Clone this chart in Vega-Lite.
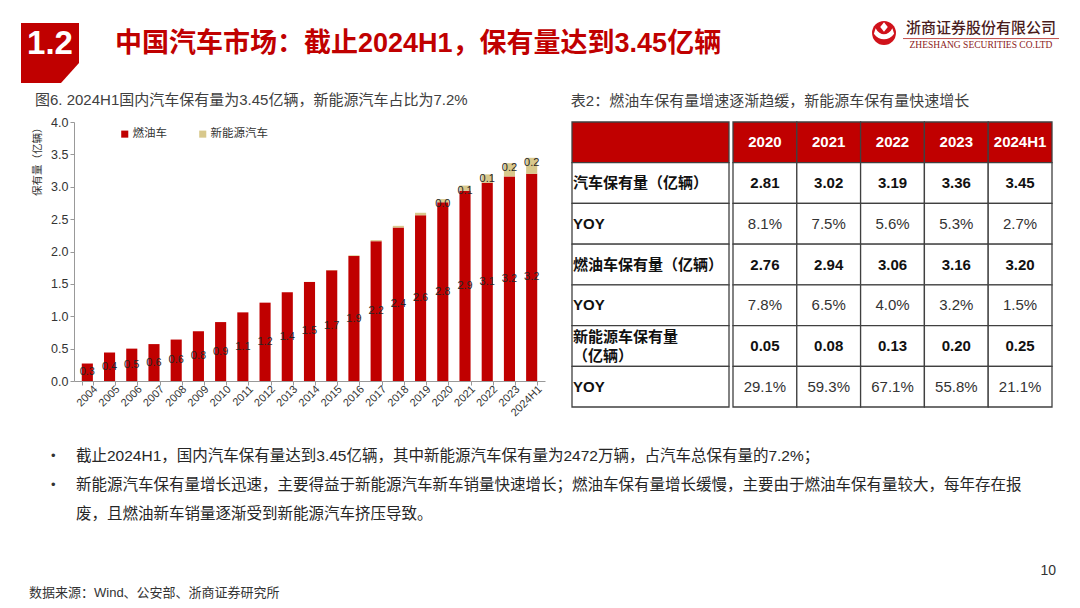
{
  "$schema": "https://vega.github.io/schema/vega-lite/v6.json",
  "background": "white",
  "padding": {"left": 20, "top": 18, "right": 0, "bottom": 0},
  "config": {
    "view": {"stroke": "transparent"},
    "font": "Liberation Sans, Noto Sans CJK SC",
    "text": {"font": "Liberation Sans, Noto Sans CJK SC"},
    "title": {"font": "Liberation Sans, Noto Sans CJK SC"},
    "axis": {"labelFont": "Liberation Sans, Noto Sans CJK SC", "titleFont": "Noto Sans CJK SC"},
    "legend": {"labelFont": "Noto Sans CJK SC"}
  },
  "datasets": {
    "header": [
      {"part": "section", "text": "1.2"},
      {"part": "title", "text": "中国汽车市场：截止2024H1，保有量达到3.45亿辆"}
    ],
    "logo": [
      {"line": "cn", "text": "浙商证券股份有限公司"},
      {"line": "en", "text": "ZHESHANG SECURITIES CO.LTD"}
    ],
    "cars": [
      {"year": "2004", "type": "燃油车", "value": 0.27}, {"year": "2004", "type": "新能源汽车", "value": 0},
      {"year": "2005", "type": "燃油车", "value": 0.44}, {"year": "2005", "type": "新能源汽车", "value": 0},
      {"year": "2006", "type": "燃油车", "value": 0.50}, {"year": "2006", "type": "新能源汽车", "value": 0},
      {"year": "2007", "type": "燃油车", "value": 0.57}, {"year": "2007", "type": "新能源汽车", "value": 0},
      {"year": "2008", "type": "燃油车", "value": 0.64}, {"year": "2008", "type": "新能源汽车", "value": 0},
      {"year": "2009", "type": "燃油车", "value": 0.77}, {"year": "2009", "type": "新能源汽车", "value": 0},
      {"year": "2010", "type": "燃油车", "value": 0.91}, {"year": "2010", "type": "新能源汽车", "value": 0},
      {"year": "2011", "type": "燃油车", "value": 1.06}, {"year": "2011", "type": "新能源汽车", "value": 0},
      {"year": "2012", "type": "燃油车", "value": 1.21}, {"year": "2012", "type": "新能源汽车", "value": 0},
      {"year": "2013", "type": "燃油车", "value": 1.37}, {"year": "2013", "type": "新能源汽车", "value": 0},
      {"year": "2014", "type": "燃油车", "value": 1.53}, {"year": "2014", "type": "新能源汽车", "value": 0.0022},
      {"year": "2015", "type": "燃油车", "value": 1.71}, {"year": "2015", "type": "新能源汽车", "value": 0.0058},
      {"year": "2016", "type": "燃油车", "value": 1.93}, {"year": "2016", "type": "新能源汽车", "value": 0.0109},
      {"year": "2017", "type": "燃油车", "value": 2.16}, {"year": "2017", "type": "新能源汽车", "value": 0.0153},
      {"year": "2018", "type": "燃油车", "value": 2.37}, {"year": "2018", "type": "新能源汽车", "value": 0.0261},
      {"year": "2019", "type": "燃油车", "value": 2.56}, {"year": "2019", "type": "新能源汽车", "value": 0.0381},
      {"year": "2020", "type": "燃油车", "value": 2.76}, {"year": "2020", "type": "新能源汽车", "value": 0.0492},
      {"year": "2021", "type": "燃油车", "value": 2.94}, {"year": "2021", "type": "新能源汽车", "value": 0.0784},
      {"year": "2022", "type": "燃油车", "value": 3.06}, {"year": "2022", "type": "新能源汽车", "value": 0.131},
      {"year": "2023", "type": "燃油车", "value": 3.16}, {"year": "2023", "type": "新能源汽车", "value": 0.2041},
      {"year": "2024H1", "type": "燃油车", "value": 3.20}, {"year": "2024H1", "type": "新能源汽车", "value": 0.2472}
    ],
    "labels": [
      {"row": "年份", "col": "指标", "label": ""},
      {"row": "汽车保有量（亿辆）", "col": "指标", "label": "汽车保有量（亿辆）"},
      {"row": "汽车YOY", "col": "指标", "label": "YOY"},
      {"row": "燃油车保有量（亿辆）", "col": "指标", "label": "燃油车保有量（亿辆）"},
      {"row": "燃油车YOY", "col": "指标", "label": "YOY"},
      {"row": "新能源车保有量（亿辆）", "col": "指标", "label": ["新能源车保有量", "（亿辆）"]},
      {"row": "新能源车YOY", "col": "指标", "label": "YOY"}
    ],
    "table": [
      {"row": "年份", "col": "2020"}, {"row": "年份", "col": "2021"}, {"row": "年份", "col": "2022"}, {"row": "年份", "col": "2023"}, {"row": "年份", "col": "2024H1"},
      {"row": "汽车保有量（亿辆）", "col": "2020", "value": 2.81}, {"row": "汽车保有量（亿辆）", "col": "2021", "value": 3.02}, {"row": "汽车保有量（亿辆）", "col": "2022", "value": 3.19}, {"row": "汽车保有量（亿辆）", "col": "2023", "value": 3.36}, {"row": "汽车保有量（亿辆）", "col": "2024H1", "value": 3.45},
      {"row": "汽车YOY", "col": "2020", "value": 0.081}, {"row": "汽车YOY", "col": "2021", "value": 0.075}, {"row": "汽车YOY", "col": "2022", "value": 0.056}, {"row": "汽车YOY", "col": "2023", "value": 0.053}, {"row": "汽车YOY", "col": "2024H1", "value": 0.027},
      {"row": "燃油车保有量（亿辆）", "col": "2020", "value": 2.76}, {"row": "燃油车保有量（亿辆）", "col": "2021", "value": 2.94}, {"row": "燃油车保有量（亿辆）", "col": "2022", "value": 3.06}, {"row": "燃油车保有量（亿辆）", "col": "2023", "value": 3.16}, {"row": "燃油车保有量（亿辆）", "col": "2024H1", "value": 3.20},
      {"row": "燃油车YOY", "col": "2020", "value": 0.078}, {"row": "燃油车YOY", "col": "2021", "value": 0.065}, {"row": "燃油车YOY", "col": "2022", "value": 0.040}, {"row": "燃油车YOY", "col": "2023", "value": 0.032}, {"row": "燃油车YOY", "col": "2024H1", "value": 0.015},
      {"row": "新能源车保有量（亿辆）", "col": "2020", "value": 0.05}, {"row": "新能源车保有量（亿辆）", "col": "2021", "value": 0.08}, {"row": "新能源车保有量（亿辆）", "col": "2022", "value": 0.13}, {"row": "新能源车保有量（亿辆）", "col": "2023", "value": 0.20}, {"row": "新能源车保有量（亿辆）", "col": "2024H1", "value": 0.25},
      {"row": "新能源车YOY", "col": "2020", "value": 0.291}, {"row": "新能源车YOY", "col": "2021", "value": 0.593}, {"row": "新能源车YOY", "col": "2022", "value": 0.671}, {"row": "新能源车YOY", "col": "2023", "value": 0.558}, {"row": "新能源车YOY", "col": "2024H1", "value": 0.211}
    ],
    "bullets": [
      {"line": 1, "bullet": "•", "text": "截止2024H1，国内汽车保有量达到3.45亿辆，其中新能源汽车保有量为2472万辆，占汽车总保有量的7.2%；"},
      {"line": 2, "bullet": "•", "text": "新能源汽车保有量增长迅速，主要得益于新能源汽车新车销量快速增长；燃油车保有量增长缓慢，主要由于燃油车保有量较大，每年存在报"},
      {"line": 3, "bullet": "", "text": "废，且燃油新车销量逐渐受到新能源汽车挤压导致。"}
    ],
    "footer": [
      {"item": "page", "text": "10"},
      {"item": "source", "text": "数据来源：Wind、公安部、浙商证券研究所"}
    ]
  },
  "spacing": 8,
  "vconcat": [
    {
      "spacing": 33,
      "hconcat": [
        {
          "width": 60, "height": 64,
          "data": {"name": "header"},
          "transform": [{"filter": "datum.part === 'section'"}],
          "layer": [
            {"mark": {"type": "point", "shape": "M-0.9375,-0.875L0.875,-0.875L0.875,0.375L0.3125,1L-0.9375,1Z", "size": 4096, "filled": true, "fill": "#C00000", "opacity": 1, "strokeWidth": 0}, "encoding": {}},
            {"mark": {"type": "text", "color": "white", "fontSize": 33, "fontWeight": "bold", "baseline": "middle", "align": "center", "dy": -7, "dx": -1, "font": "Liberation Sans"}, "encoding": {"text": {"field": "text"}}}
          ]
        },
        {
          "width": 718, "height": 64,
          "data": {"name": "header"},
          "transform": [{"filter": "datum.part === 'title'"}],
          "mark": {"type": "text", "align": "left", "baseline": "middle", "dy": -7, "dx": -3, "fontSize": 27, "fontWeight": "bold", "color": "#C00000"},
          "encoding": {
            "x": {"field": "part", "type": "nominal", "scale": {"type": "point", "padding": 0, "align": 0}, "axis": null},
            "text": {"field": "text"}
          }
        },
        {
          "spacing": 4,
          "hconcat": [
            {
              "width": 28, "height": 28,
              "data": {"name": "logo"},
              "transform": [{"filter": "datum.line === 'cn'"}],
              "layer": [
                {"mark": {"type": "point", "shape": "circle", "size": 572, "filled": true, "fill": "#D0121B", "opacity": 1, "strokeWidth": 0}, "encoding": {}},
                {"mark": {"type": "point", "shape": "M-0.62,-0.35C-0.3,0.25 0.3,0.25 0.62,-0.35L0.75,0.05C0.35,0.6 -0.35,0.6 -0.75,0.05Z", "size": 729, "filled": true, "fill": "white", "opacity": 1, "strokeWidth": 0}, "encoding": {}},
                {"mark": {"type": "point", "shape": "M0,-0.8L0.28,-0.45L0,-0.1L-0.28,-0.45Z", "size": 729, "filled": true, "fill": "white", "opacity": 1, "strokeWidth": 0}, "encoding": {}}
              ]
            },
            {
              "width": 156, "height": 34,
              "data": {"name": "logo"},
              "encoding": {
                "y": {"field": "line", "type": "nominal", "scale": {"domain": ["cn", "en"], "paddingInner": 0, "paddingOuter": 0}, "axis": null}
              },
              "layer": [
                {"transform": [{"filter": "datum.line === 'cn'"}], "mark": {"type": "text", "baseline": "middle", "align": "center", "fontSize": 15, "fontWeight": 500, "color": "#4A1C1C", "font": "Noto Sans CJK SC"}, "encoding": {"text": {"field": "text"}}},
                {"transform": [{"filter": "datum.line === 'en'"}], "mark": {"type": "rule", "color": "#C0504D", "strokeWidth": 1}, "encoding": {"y": {"field": "line", "type": "nominal", "bandPosition": 0.15}}},
                {"transform": [{"filter": "datum.line === 'en'"}], "mark": {"type": "text", "baseline": "middle", "align": "center", "fontSize": 9.5, "color": "#8B1A1A", "font": "Liberation Serif"}, "encoding": {"text": {"field": "text"}}}
              ]
            }
          ]
        }
      ]
    },
    {
      "spacing": 21,
      "vconcat": [
        {
          "spacing": 0,
          "hconcat": [
            {"width": 10, "height": 1, "data": {"values": [{"k": 1}]}, "mark": {"type": "point", "opacity": 0, "size": 1}, "encoding": {}},
            {
              "spacing": 24,
              "hconcat": [
                {
                  "width": 471, "height": 259,
                  "title": {"text": "图6. 2024H1国内汽车保有量为3.45亿辆，新能源汽车占比为7.2%", "anchor": "start", "fontSize": 15, "fontWeight": "normal", "color": "#404040", "offset": 8, "dx": 3},
                  "data": {"name": "cars"},
                  "transform": [{"stack": "value", "groupby": ["year"], "sort": [{"field": "type", "order": "descending"}], "as": ["v0", "v1"]}],
                  "encoding": {
                    "x": {"field": "year", "type": "ordinal", "scale": {"paddingInner": 0.5, "paddingOuter": 0.35},
                      "axis": {"title": null, "labelAngle": -45, "labelFontSize": 11, "labelColor": "#333333", "tickBand": "extent", "tickSize": 4, "tickColor": "#999999", "domainColor": "#999999", "labelPadding": -2, "labelOffset": 4}}
                  },
                  "resolve": {"scale": {"y": "independent"}},
                  "layer": [
                    {
                      "mark": {"type": "bar"},
                      "encoding": {
                        "y": {"field": "v1", "type": "quantitative", "scale": {"domain": [0, 4], "nice": false},
                          "axis": {"title": "保有量（亿辆）", "titleAnchor": "end", "titleFontSize": 10.5, "titleFontWeight": "normal", "titleColor": "#333333", "titlePadding": 6,
                            "values": [0, 0.5, 1, 1.5, 2, 2.5, 3, 3.5, 4], "format": ".1f", "labelFontSize": 12.5, "labelColor": "#333333",
                            "tickSize": 4, "tickColor": "#999999", "domainColor": "#999999", "grid": false, "minExtent": 26, "maxExtent": 26, "labelPadding": 2}},
                        "y2": {"field": "v0"},
                        "color": {"field": "type", "type": "nominal", "scale": {"domain": ["燃油车", "新能源汽车"], "range": ["#C00000", "#D8C88C"]},
                          "legend": {"title": null, "orient": "none", "legendX": 98, "legendY": 109, "direction": "horizontal", "symbolType": "square", "symbolSize": 50, "labelFontSize": 11.5, "labelColor": "#333333", "columnPadding": 30, "labelOffset": 2, "symbolStrokeWidth": 0}}
                      }
                    },
                    {
                      "transform": [{"filter": "datum.type === '燃油车'"}],
                      "mark": {"type": "text", "fontSize": 11, "color": "#262626", "baseline": "middle", "font": "Liberation Sans"},
                      "encoding": {
                        "y": {"field": "value", "type": "quantitative", "scale": {"domain": [0, 8], "nice": false}, "axis": null},
                        "text": {"field": "value", "type": "quantitative", "format": ".1f"}
                      }
                    },
                    {
                      "transform": [{"filter": "datum.type === '新能源汽车' && datum.value > 0.04"}],
                      "mark": {"type": "text", "fontSize": 11, "color": "#262626", "baseline": "middle", "dy": 5, "font": "Liberation Sans"},
                      "encoding": {
                        "y": {"field": "v1", "type": "quantitative", "scale": {"domain": [0, 4], "nice": false}, "axis": null},
                        "text": {"field": "value", "type": "quantitative", "format": ".1f"}
                      }
                    }
                  ]
                },
                {
                  "title": {"text": "表2：燃油车保有量增速逐渐趋缓，新能源车保有量快速增长", "anchor": "start", "fontSize": 15, "fontWeight": "normal", "color": "#404040", "offset": 12},
                  "spacing": 0,
                  "hconcat": [
                    {
                      "width": 157, "height": 285,
                      "data": {"name": "labels"},
                      "encoding": {
                        "y": {"field": "row", "type": "nominal", "scale": {"domain": ["年份", "汽车保有量（亿辆）", "汽车YOY", "燃油车保有量（亿辆）", "燃油车YOY", "新能源车保有量（亿辆）", "新能源车YOY"], "paddingInner": 0, "paddingOuter": 0}, "axis": null},
                        "x": {"field": "col", "type": "nominal", "scale": {"paddingInner": 0, "paddingOuter": 0}, "axis": null}
                      },
                      "layer": [
                        {"mark": {"type": "rect", "stroke": "#404040", "strokeWidth": 1.3},
                         "encoding": {"fill": {"condition": {"test": "datum.row === '年份'", "value": "#C00000"}, "value": "#FFFFFF"}}},
                        {"transform": [{"filter": "datum.row !== '新能源车保有量（亿辆）'"}],
                         "mark": {"type": "text", "align": "left", "baseline": "middle", "dx": 1, "fontSize": 15, "fontWeight": "bold", "color": "#111111"},
                         "encoding": {"x": {"field": "col", "type": "nominal", "bandPosition": 0}, "text": {"field": "label"}}},
                        {"transform": [{"filter": "datum.row === '新能源车保有量（亿辆）'"}],
                         "mark": {"type": "text", "align": "left", "baseline": "middle", "dx": 1, "dy": -9, "fontSize": 15, "fontWeight": "bold", "color": "#111111", "lineHeight": 19},
                         "encoding": {"x": {"field": "col", "type": "nominal", "bandPosition": 0}, "text": {"field": "label"}}}
                      ]
                    },
                    {
                      "width": 319, "height": 285,
                      "data": {"name": "table"},
                      "encoding": {
                        "y": {"field": "row", "type": "nominal", "scale": {"domain": ["年份", "汽车保有量（亿辆）", "汽车YOY", "燃油车保有量（亿辆）", "燃油车YOY", "新能源车保有量（亿辆）", "新能源车YOY"], "paddingInner": 0, "paddingOuter": 0}, "axis": null},
                        "x": {"field": "col", "type": "nominal", "scale": {"domain": ["2020", "2021", "2022", "2023", "2024H1"], "paddingInner": 0, "paddingOuter": 0}, "axis": null}
                      },
                      "layer": [
                        {"mark": {"type": "rect", "stroke": "#404040", "strokeWidth": 1.3},
                         "encoding": {"fill": {"condition": {"test": "datum.row === '年份'", "value": "#C00000"}, "value": "#FFFFFF"}}},
                        {"transform": [{"filter": "datum.row === '年份'"}],
                         "mark": {"type": "text", "baseline": "middle", "fontSize": 15, "fontWeight": "bold", "color": "#FFFFFF"},
                         "encoding": {"text": {"field": "col"}}},
                        {"transform": [{"filter": "indexof(datum.row, '亿辆') >= 0"}],
                         "mark": {"type": "text", "baseline": "middle", "fontSize": 15, "fontWeight": "bold", "color": "#111111"},
                         "encoding": {"text": {"field": "value", "type": "quantitative", "format": ".2f"}}},
                        {"transform": [{"filter": "indexof(datum.row, 'YOY') >= 0"}],
                         "mark": {"type": "text", "baseline": "middle", "fontSize": 15, "color": "#333333"},
                         "encoding": {"text": {"field": "value", "type": "quantitative", "format": ".1%"}}}
                      ]
                    }
                  ]
                }
              ]
            }
          ]
        },
        {
          "spacing": 30,
          "vconcat": [
            {
              "width": 1036, "height": 87,
              "data": {"name": "bullets"},
              "encoding": {
                "y": {"field": "line", "type": "ordinal", "scale": {"paddingInner": 0, "paddingOuter": 0}, "axis": null},
                "x": {"datum": "要点", "type": "nominal", "scale": {"type": "point", "padding": 0, "align": 0}, "axis": null}
              },
              "layer": [
                {"mark": {"type": "text", "align": "left", "baseline": "middle", "dx": 30, "fontSize": 13, "color": "#333333"}, "encoding": {"text": {"field": "bullet"}}},
                {"mark": {"type": "text", "align": "left", "baseline": "middle", "dx": 55, "fontSize": 15.5, "color": "#262626"}, "encoding": {"text": {"field": "text"}}}
              ]
            },
            {
              "width": 1036, "height": 44,
              "data": {"name": "footer"},
              "encoding": {
                "x": {"field": "item", "type": "nominal", "scale": {"type": "point", "domain": ["source", "page"], "padding": 0}, "axis": null},
                "y": {"field": "item", "type": "nominal", "scale": {"domain": ["page", "source"], "paddingInner": 0, "paddingOuter": 0}, "axis": null}
              },
              "layer": [
                {"transform": [{"filter": "datum.item === 'source'"}], "mark": {"type": "text", "align": "left", "baseline": "middle", "dx": 8, "fontSize": 13, "color": "#333333"}, "encoding": {"text": {"field": "text"}}},
                {"transform": [{"filter": "datum.item === 'page'"}], "mark": {"type": "text", "align": "right", "baseline": "middle", "dx": -1, "fontSize": 14, "color": "#333333"}, "encoding": {"text": {"field": "text"}}}
              ]
            }
          ]
        }
      ]
    }
  ]
}
